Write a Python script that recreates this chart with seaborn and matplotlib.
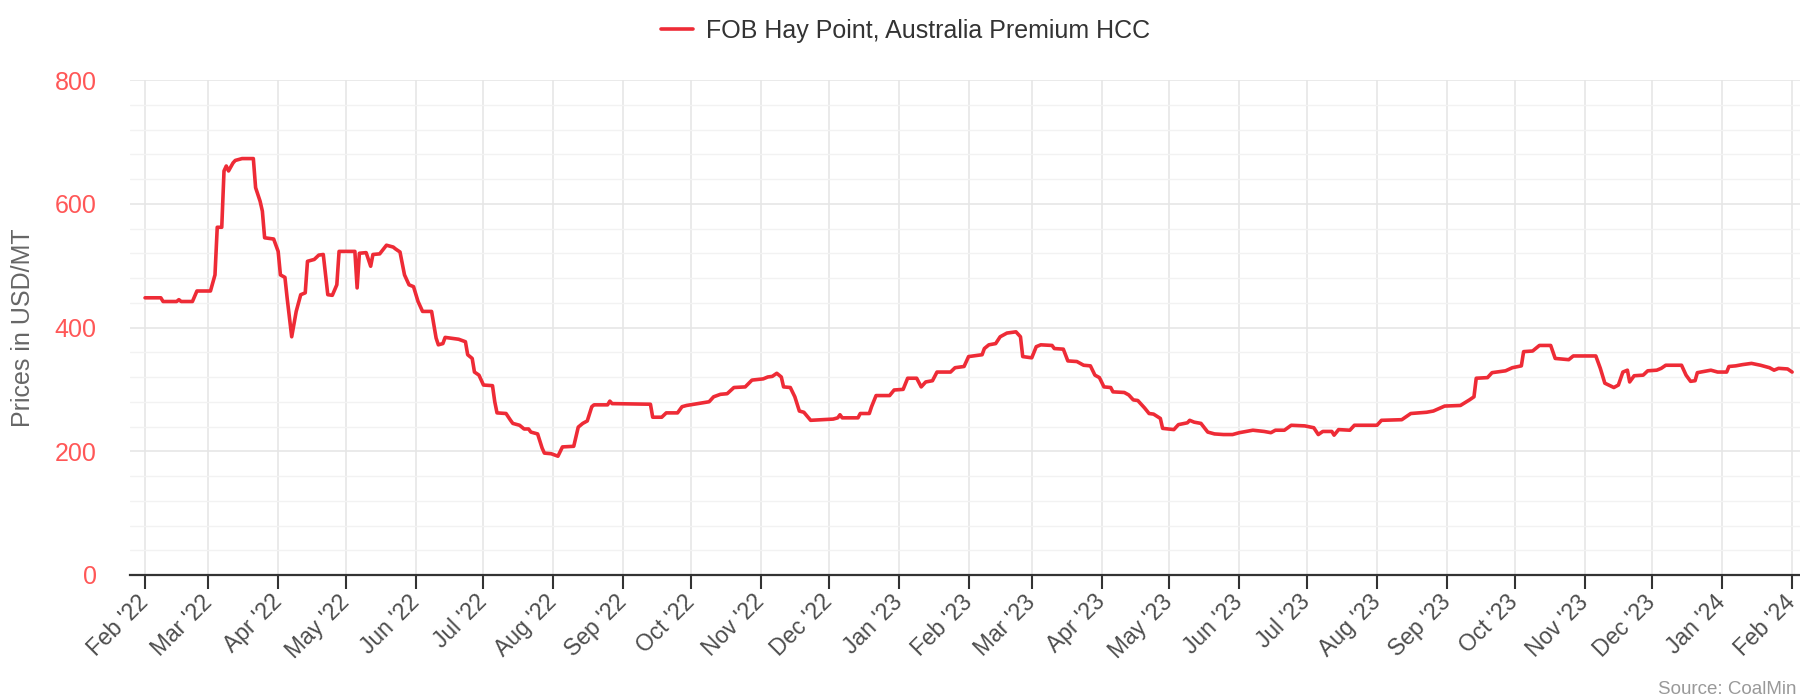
import matplotlib
matplotlib.use("Agg")
import matplotlib.pyplot as plt
import matplotlib.dates as mdates
import numpy as np
import pandas as pd
import seaborn as sns

# -------------------------------
# Data
# -------------------------------
series_name = "FOB Hay Point, Australia Premium HCC"

dates_2022 = [
    "2022-02-01", "2022-02-08", "2022-02-09", "2022-02-15", "2022-02-16", "2022-02-17",
    "2022-02-22", "2022-02-24", "2022-03-02", "2022-03-04", "2022-03-05", "2022-03-07",
    "2022-03-08", "2022-03-09", "2022-03-10", "2022-03-12", "2022-03-13", "2022-03-16",
    "2022-03-21", "2022-03-22", "2022-03-24", "2022-03-25", "2022-03-26", "2022-03-30",
    "2022-04-01", "2022-04-02", "2022-04-04", "2022-04-05", "2022-04-07", "2022-04-09",
    "2022-04-11", "2022-04-13", "2022-04-14", "2022-04-17", "2022-04-19", "2022-04-21",
    "2022-04-23", "2022-04-25", "2022-04-27", "2022-04-28", "2022-05-05", "2022-05-06",
    "2022-05-07", "2022-05-10", "2022-05-12", "2022-05-13", "2022-05-16", "2022-05-19",
    "2022-05-22", "2022-05-23", "2022-05-25", "2022-05-27", "2022-05-29", "2022-05-31",
    "2022-06-02", "2022-06-04", "2022-06-08", "2022-06-10", "2022-06-11", "2022-06-13",
    "2022-06-14", "2022-06-20", "2022-06-23", "2022-06-24", "2022-06-26", "2022-06-27",
    "2022-06-29", "2022-07-01", "2022-07-05", "2022-07-06", "2022-07-07", "2022-07-11",
    "2022-07-13", "2022-07-14", "2022-07-17", "2022-07-19", "2022-07-21", "2022-07-22",
    "2022-07-25", "2022-07-27", "2022-07-28", "2022-07-31", "2022-08-03", "2022-08-05",
    "2022-08-10", "2022-08-12", "2022-08-14", "2022-08-16", "2022-08-18", "2022-08-19",
    "2022-08-25", "2022-08-26", "2022-08-27", "2022-09-13", "2022-09-14", "2022-09-18",
    "2022-09-20", "2022-09-25", "2022-09-27", "2022-09-29", "2022-10-04", "2022-10-09",
    "2022-10-11", "2022-10-14", "2022-10-17", "2022-10-20", "2022-10-25", "2022-10-28",
    "2022-11-02", "2022-11-04", "2022-11-06", "2022-11-08", "2022-11-10", "2022-11-11",
    "2022-11-14", "2022-11-16", "2022-11-18", "2022-11-20", "2022-11-23", "2022-11-28",
    "2022-12-03", "2022-12-05", "2022-12-06", "2022-12-07", "2022-12-14", "2022-12-15",
    "2022-12-19", "2022-12-20", "2022-12-22", "2022-12-28", "2022-12-30",
]
prices_2022 = [
    448, 448, 442, 442, 445, 442,
    442, 459, 459, 485, 562, 562,
    653, 661, 653, 666, 670, 673,
    673, 626, 604, 588, 545, 543,
    523, 485, 481, 447, 385, 426,
    453, 456, 507, 510, 517, 518,
    453, 452, 469, 523, 523, 464,
    520, 521, 499, 518, 519, 533,
    530, 527, 522, 485, 469, 466,
    442, 426, 426, 383, 372, 374,
    384, 381, 377, 356, 350, 328,
    323, 307, 306, 280, 262, 261,
    250, 245, 242, 236, 236, 231,
    228, 205, 197, 196, 192, 207,
    208, 239, 245, 249, 272, 275,
    275, 281, 277, 276, 255, 255,
    262, 262, 272, 274, 277, 280,
    288, 292, 293, 303, 304, 315,
    317, 320, 321, 326, 320, 304,
    303, 288, 265, 263, 250, 251,
    252, 254, 259, 254, 254, 261,
    261, 272, 290, 290, 299,
]

dates_2023 = [
    "2023-01-03", "2023-01-05", "2023-01-09", "2023-01-11", "2023-01-13", "2023-01-16",
    "2023-01-18", "2023-01-24", "2023-01-26", "2023-01-30", "2023-02-01", "2023-02-07",
    "2023-02-08", "2023-02-10", "2023-02-13", "2023-02-15", "2023-02-18", "2023-02-22",
    "2023-02-24", "2023-02-25", "2023-03-01", "2023-03-03", "2023-03-05", "2023-03-10",
    "2023-03-11", "2023-03-15", "2023-03-17", "2023-03-21", "2023-03-24", "2023-03-27",
    "2023-03-29", "2023-03-31", "2023-04-02", "2023-04-05", "2023-04-06", "2023-04-11",
    "2023-04-13", "2023-04-15", "2023-04-17", "2023-04-20", "2023-04-22", "2023-04-24",
    "2023-04-27", "2023-04-28", "2023-05-03", "2023-05-05", "2023-05-09", "2023-05-10",
    "2023-05-12", "2023-05-15", "2023-05-18", "2023-05-21", "2023-05-25", "2023-05-29",
    "2023-06-01", "2023-06-07", "2023-06-12", "2023-06-15", "2023-06-17", "2023-06-21",
    "2023-06-24", "2023-06-30", "2023-07-04", "2023-07-06", "2023-07-08", "2023-07-12",
    "2023-07-13", "2023-07-15", "2023-07-20", "2023-07-22", "2023-08-01", "2023-08-03",
    "2023-08-12", "2023-08-16", "2023-08-23", "2023-08-26", "2023-08-31", "2023-09-07",
    "2023-09-11", "2023-09-13", "2023-09-14", "2023-09-19", "2023-09-21", "2023-09-27",
    "2023-09-30", "2023-10-04", "2023-10-05", "2023-10-09", "2023-10-12", "2023-10-17",
    "2023-10-19", "2023-10-25", "2023-10-27", "2023-11-06", "2023-11-08", "2023-11-10",
    "2023-11-14", "2023-11-16", "2023-11-18", "2023-11-20", "2023-11-21", "2023-11-23",
    "2023-11-27", "2023-11-29", "2023-12-03", "2023-12-05", "2023-12-07", "2023-12-14",
    "2023-12-16", "2023-12-18", "2023-12-20", "2023-12-21", "2023-12-27", "2023-12-30",
]
prices_2023 = [
    300, 318, 318, 304, 312, 314,
    328, 328, 335, 337, 353, 356,
    366, 372, 374, 385, 391, 393,
    385, 353, 351, 369, 372, 371,
    366, 365, 346, 345, 339, 338,
    323, 319, 304, 303, 296, 295,
    291, 283, 282, 270, 261, 260,
    253, 237, 235, 243, 246, 250,
    247, 245, 231, 228, 227, 227,
    230, 234, 232, 230, 234, 234,
    242, 241, 238, 227, 232, 232,
    226, 235, 234, 242, 242, 250,
    251, 261, 263, 265, 273, 274,
    283, 288, 318, 319, 327, 330,
    335, 338, 361, 362, 371, 371,
    350, 348, 354, 354, 334, 310,
    303, 307, 328, 331, 312, 322,
    323, 330, 331, 334, 339, 339,
    323, 313, 314, 327, 331, 328,
]

dates_2024 = [
    "2024-01-03", "2024-01-04", "2024-01-07", "2024-01-10", "2024-01-14", "2024-01-18",
    "2024-01-22", "2024-01-24", "2024-01-26", "2024-01-30", "2024-02-01",
]
prices_2024 = [
    328, 337, 338, 340, 342, 339,
    335, 331, 334, 333, 328,
]

source_text = "Source: CoalMin"

line_color = "#ee2b36"
ytick_color = "#ff5757"

df = pd.DataFrame({
    "date": pd.to_datetime(dates_2022 + dates_2023 + dates_2024),
    "price": prices_2022 + prices_2023 + prices_2024,
})

# -------------------------------
# Plot
# -------------------------------
sns.set_theme(style="white")
plt.rcParams['font.family'] = ['Liberation Sans', 'DejaVu Sans']

fig = plt.figure(figsize=(18, 6.99), dpi=100, facecolor="white")
ax = fig.add_axes([130 / 1800, 1 - 575 / 699, 1 - 130 / 1800, (575 - 80) / 699])

sns.lineplot(data=df, x="date", y="price", color=line_color, linewidth=2.6,
             ax=ax, label=series_name, legend=False)

ax.set_ylim(0, 800)
ax.set_xlim(pd.Timestamp("2022-01-25 08:00"), pd.Timestamp("2024-02-04 12:00"))
ax.set_yticks([0, 200, 400, 600, 800])
ax.set_yticks(np.arange(0, 801, 40), minor=True)
ax.xaxis.set_major_locator(mdates.MonthLocator())
ax.xaxis.set_major_formatter(mdates.DateFormatter("%b '%y"))

ax.grid(which='major', color='#e6e6e6', linewidth=1.2)
ax.grid(which='minor', axis='y', color='#f2f2f2', linewidth=1.0)
ax.set_axisbelow(True)

for side in ['top', 'right', 'left']:
    ax.spines[side].set_visible(False)
ax.spines['bottom'].set_color('#333333')
ax.spines['bottom'].set_linewidth(1.6)

ax.tick_params(axis='x', which='major', direction='out', length=10, width=1.5,
               color='#333333', labelsize=16.5, labelcolor='#4d4d4d', pad=7, bottom=True)
ax.tick_params(axis='y', which='both', length=0, labelsize=18, labelcolor=ytick_color, pad=24)
ax.tick_params(axis='y', which='minor', left=False)
plt.setp(ax.get_xticklabels(), rotation=45, ha='right', va='center', rotation_mode='anchor')

ax.set_xlabel("")
ax.set_ylabel("Prices in USD/MT", fontsize=18, color='#666666', labelpad=14)

handles, labels = ax.get_legend_handles_labels()
fig.legend(handles, labels, loc='center', bbox_to_anchor=(0.503, 1 - 31 / 699),
           frameon=False, fontsize=18, labelcolor='#333333', handlelength=1.3,
           handletextpad=0.5)

fig.text(1797 / 1800, 1 - 690 / 699, source_text, fontsize=13.5,
         color='#999999', ha='right', va='center')

fig.savefig("out.png", dpi=100, facecolor="white")
plt.close(fig)
